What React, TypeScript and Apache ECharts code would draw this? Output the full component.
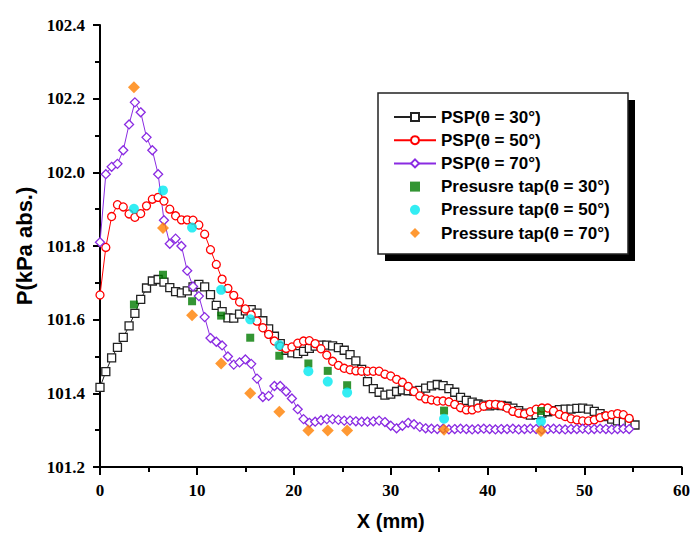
import React, { useEffect, useRef } from "react";
import * as echarts from "echarts";

const pspX = [0, 0.6, 1.2, 1.8, 2.4, 3.0, 3.6, 4.2, 4.8, 5.4, 6.0, 6.6, 7.2, 7.8, 8.4, 9.0, 9.6, 10.2, 10.8, 11.4, 12.0, 12.6, 13.2, 13.8, 14.4, 15.0, 15.6, 16.2, 16.8, 17.4, 18.0, 18.6, 19.2, 19.8, 20.4, 21.0, 21.6, 22.2, 22.8, 23.4, 24.0, 24.6, 25.2, 25.8, 26.4, 27.0, 27.6, 28.2, 28.8, 29.4, 30.0, 30.6, 31.2, 31.8, 32.4, 33.0, 33.6, 34.2, 34.8, 35.4, 36.0, 36.6, 37.2, 37.8, 38.4, 39.0, 39.6, 40.2, 40.8, 41.4, 42.0, 42.6, 43.2, 43.8, 44.4, 45.0, 45.6, 46.2, 46.8, 47.4, 48.0, 48.6, 49.2, 49.8, 50.4, 51.0, 51.6, 52.2, 52.8, 53.4, 54.0, 54.6, 55.2];

const psp30 = [101.416, 101.459, 101.496, 101.525, 101.552, 101.583, 101.617, 101.655, 101.686, 101.705, 101.709, 101.702, 101.687, 101.676, 101.673, 101.678, 101.689, 101.696, 101.689, 101.668, 101.639, 101.622, 101.605, 101.604, 101.615, 101.624, 101.627, 101.618, 101.597, 101.575, 101.555, 101.535, 101.517, 101.51, 101.508, 101.514, 101.522, 101.528, 101.531, 101.531, 101.529, 101.524, 101.517, 101.505, 101.488, 101.465, 101.432, 101.413, 101.403, 101.395, 101.398, 101.405, 101.409, 101.407, 101.406, 101.408, 101.414, 101.42, 101.424, 101.421, 101.413, 101.403, 101.389, 101.381, 101.376, 101.371, 101.368, 101.366, 101.368, 101.367, 101.365, 101.36, 101.353, 101.346, 101.341, 101.342, 101.346, 101.35, 101.353, 101.356, 101.357, 101.357, 101.359, 101.36, 101.357, 101.351, 101.345, 101.337, 101.33, 101.325, 101.322, 101.319, 101.314];

const psp50 = [101.667, 101.796, 101.88, 101.912, 101.906, 101.887, 101.878, 101.888, 101.909, 101.927, 101.932, 101.922, 101.9, 101.882, 101.871, 101.871, 101.87, 101.857, 101.832, 101.79, 101.75, 101.71, 101.685, 101.666, 101.648, 101.629, 101.613, 101.596, 101.578, 101.56, 101.542, 101.528, 101.522, 101.526, 101.536, 101.542, 101.543, 101.535, 101.521, 101.504, 101.487, 101.476, 101.468, 101.464, 101.461, 101.46, 101.46, 101.46, 101.46, 101.452, 101.447, 101.438, 101.43, 101.419, 101.405, 101.393, 101.385, 101.382, 101.379, 101.379, 101.377, 101.37, 101.361, 101.355, 101.355, 101.36, 101.365, 101.37, 101.37, 101.367, 101.36, 101.351, 101.346, 101.344, 101.35, 101.357, 101.36, 101.36, 101.352, 101.343, 101.337, 101.331, 101.328, 101.325, 101.325, 101.328, 101.334, 101.339, 101.342, 101.345, 101.342, 101.332];

const psp70 = [101.81, 101.995, 102.015, 102.023, 102.06, 102.13, 102.19, 102.163, 102.095, 102.06, 101.995, 101.87, 101.806, 101.82, 101.8, 101.733, 101.69, 101.664, 101.607, 101.55, 101.54, 101.53, 101.5, 101.478, 101.484, 101.492, 101.48, 101.44, 101.39, 101.393, 101.42, 101.42, 101.405, 101.386, 101.357, 101.33, 101.32, 101.323, 101.327, 101.33, 101.33, 101.328, 101.326, 101.326, 101.324, 101.323, 101.323, 101.324, 101.326, 101.322, 101.312, 101.305, 101.312, 101.32, 101.316, 101.309, 101.305, 101.304, 101.303, 101.304, 101.302, 101.303, 101.304, 101.303, 101.302, 101.303, 101.304, 101.303, 101.302, 101.303, 101.303, 101.304, 101.302, 101.303, 101.304, 101.303, 101.302, 101.303, 101.304, 101.303, 101.302, 101.303, 101.303, 101.304, 101.302, 101.303, 101.304, 101.303, 101.302, 101.303, 101.304, 101.303];

const tapX = [3.5, 6.5, 9.5, 12.5, 15.5, 18.5, 21.5, 23.5, 25.5, 35.5, 45.5];
const tap30 = [101.641, 101.722, 101.65, 101.611, 101.551, 101.502, 101.481, 101.461, 101.422, 101.353, 101.352];
const tap50 = [101.901, 101.951, 101.85, 101.681, 101.601, 101.531, 101.46, 101.432, 101.402, 101.331, 101.324];
const tap70 = [102.231, 101.849, 101.612, 101.481, 101.4, 101.35, 101.299, 101.299, 101.299, 101.301, 101.298];

const seriesNames = [
  "PSP(θ = 30°)",
  "PSP(θ = 50°)",
  "PSP(θ = 70°)",
  "Presusre tap(θ = 30°)",
  "Pressure tap(θ = 50°)",
  "Pressure tap(θ = 70°)",
];

const pairs = (xs: number[], ys: number[]) => ys.map((y, i) => [xs[i], y]);

export default function App() {
  const ref = useRef<HTMLDivElement>(null);
  useEffect(() => {
    document.body.style.margin = "0";
    if (!ref.current) return;
    const chart = echarts.init(ref.current, null, { renderer: "svg" });
    const serif = "Liberation Serif";
    const sans = "Liberation Sans";
    const nameFont = { fontFamily: sans, fontWeight: "bold" as const, color: "#000" };
    const lineSeries = (name: string, data: number[][], symbol: string, size: number, color: string) => ({
      name,
      type: "line",
      data,
      symbol,
      symbolSize: size,
      showAllSymbol: true,
      lineStyle: { color, width: 1 },
      itemStyle: { color: "#fff", borderColor: color, borderWidth: 1.3 },
      z: 2,
    });
    const scatterSeries = (name: string, data: number[][], symbol: string, size: number, color: string) => ({
      name,
      type: "scatter",
      data,
      symbol,
      symbolSize: size,
      itemStyle: { color },
      z: 3,
    });
    chart.setOption({
      animation: false,
      backgroundColor: "#fff",
      grid: { left: 100, right: 9, top: 25, bottom: 68, containLabel: false },
      xAxis: {
        type: "value",
        min: 0,
        max: 60,
        interval: 10,
        name: "X (mm)",
        nameLocation: "middle",
        nameGap: 44,
        nameTextStyle: { ...nameFont, fontSize: 20 },
        axisLine: { show: true, onZero: false, lineStyle: { color: "#000", width: 2 } },
        axisTick: { show: true, length: 8, lineStyle: { color: "#000", width: 2 } },
        minorTick: { show: true, splitNumber: 2, length: 5, lineStyle: { color: "#000", width: 2 } },
        splitLine: { show: false },
        axisLabel: {
          show: true,
          fontFamily: serif,
          fontWeight: "bold",
          fontSize: 17,
          color: "#000",
          margin: 15,
          formatter: (v: number) => String(Math.round(v)),
        },
      },
      yAxis: {
        type: "value",
        min: 101.2,
        max: 102.4,
        interval: 0.2,
        name: "P(kPa abs.)",
        nameLocation: "middle",
        nameGap: 62,
        nameTextStyle: { ...nameFont, fontSize: 22 },
        axisLine: { show: true, onZero: false, lineStyle: { color: "#000", width: 2 } },
        axisTick: { show: true, length: 7, lineStyle: { color: "#000", width: 2 } },
        minorTick: { show: true, splitNumber: 2, length: 5, lineStyle: { color: "#000", width: 2 } },
        splitLine: { show: false },
        axisLabel: {
          show: true,
          fontFamily: serif,
          fontWeight: "bold",
          fontSize: 17,
          color: "#000",
          margin: 15,
          formatter: (v: number) => v.toFixed(1),
        },
      },
      graphic: [
        { type: "rect", z: 5, shape: { x: 385, y: 100, width: 250, height: 161 }, style: { fill: "#000" } },
        { type: "rect", z: 6, shape: { x: 378, y: 93, width: 250, height: 161 }, style: { fill: "#fff", stroke: "#222", lineWidth: 1.5 } },
      ],
      legend: {
        orient: "vertical",
        left: 393,
        top: 108,
        padding: 0,
        itemWidth: 42,
        itemHeight: 10,
        itemGap: 5.2,
        symbolKeepAspect: true,
        z: 10,
        data: [
          { name: seriesNames[0] },
          { name: seriesNames[1] },
          { name: seriesNames[2] },
          { name: seriesNames[3], icon: "path://M0,0H9V9H0Z" },
          { name: seriesNames[4], icon: "circle" },
          { name: seriesNames[5], icon: "path://M5,0L10,5L5,10L0,5Z" },
        ],
        textStyle: { fontFamily: sans, fontWeight: "bold", fontSize: 17, lineHeight: 18, color: "#000" },
      },
      series: [
        lineSeries(seriesNames[0], pairs(pspX, psp30), "rect", 8, "#222"),
        lineSeries(seriesNames[1], pairs(pspX, psp50), "circle", 8, "#ff0000"),
        lineSeries(seriesNames[2], pairs(pspX, psp70), "diamond", 9, "#8a2be2"),
        scatterSeries(seriesNames[3], pairs(tapX, tap30), "rect", 8, "#007a00"),
        scatterSeries(seriesNames[4], pairs(tapX, tap50), "circle", 10, "#00e8f0"),
        scatterSeries(seriesNames[5], pairs(tapX, tap70), "diamond", 12, "#ff8000"),
      ],
    });
    return () => chart.dispose();
  }, []);
  return <div ref={ref} style={{ width: 693, height: 536 }} />;
}
